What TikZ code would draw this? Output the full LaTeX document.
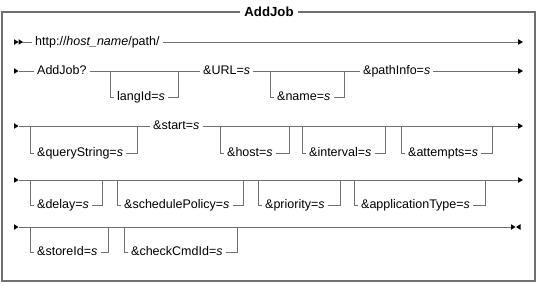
\documentclass[tikz,border=0pt]{standalone}
\usepackage{fontspec}
\setmainfont{Liberation Sans}
\usetikzlibrary{arrows.meta}
\definecolor{railgray}{RGB}{112,112,112}
\tikzset{
  track/.style={draw=railgray,line width=0.9pt},
  term/.style={inner xsep=3pt,inner ysep=0pt,text height=9pt,text depth=2.5pt,
    font=\fontsize{12.5}{14}\selectfont},
  fin/.style={-{Triangle[length=5pt,width=5.5pt,color=black]}},
}
% small filled triangles for the row heads and the final stop
\newcommand{\railhead}[2]{\fill (#1,#2-2.8) -- (#1+4.5,#2) -- (#1,#2+2.8) -- cycle;}
\newcommand{\railback}[2]{\fill (#1,#2-2.8) -- (#1-4.5,#2) -- (#1,#2+2.8) -- cycle;}
% optional item: name, main y, branch y, split x, rejoin x, text
\newcommand{\optarg}[6]{%
  \node[term,anchor=west] (#1) at (#4+4,#3) {#6};
  \draw[track] (#4,#2) |- (#1.west);
  \draw[track] (#1.east) -| (#5,#2);}

\begin{document}
\begin{tikzpicture}[x=1pt,y=-1pt]
\useasboundingbox (0,0) rectangle (538,285);
\draw[railgray,line width=1.3pt] (2,12) rectangle (535,281);
\node[fill=white,inner xsep=4pt,font=\fontsize{13.2}{15}\selectfont\bfseries] (title) at (269,12) {AddJob};

% row 1
\railhead{14}{42}\railhead{18.5}{42}
\coordinate (r1s) at (22,42);
\coordinate (r1e) at (523,42);
\node[term,anchor=west] (url) at (32,42) {http://\textit{host\_name}/path/};
\draw[track] (r1s) -- (url);
\draw[track,fin] (url) -- (r1e);

% row 2
\railhead{14}{71}
\coordinate (r2s) at (19,71);
\coordinate (r2e) at (523,71);
\node[term,anchor=west] (addjob) at (34,71) {AddJob?};
\node[term,anchor=west] (urlarg) at (200,71) {\&URL=\textit{s}};
\node[term,anchor=west] (pathinfo) at (360,71) {\&pathInfo=\textit{s}};
\draw[track] (r2s) -- (addjob);
\draw[track] (addjob) -- (urlarg);
\draw[track] (urlarg) -- (pathinfo);
\draw[track,fin] (pathinfo) -- (r2e);
\optarg{langid}{71}{97}{110}{178}{langId=\textit{s}}
\optarg{name}{71}{97}{270}{344}{\&name=\textit{s}}

% row 3
\railhead{14}{126}
\coordinate (r3s) at (19,126);
\coordinate (r3e) at (523,126);
\node[term,anchor=west] (start) at (150,126) {\&start=\textit{s}};
\draw[track] (r3s) -- (start);
\draw[track,fin] (start) -- (r3e);
\optarg{query}{126}{153}{30}{137}{\&queryString=\textit{s}}
\optarg{host}{126}{153}{220}{289}{\&host=\textit{s}}
\optarg{interval}{126}{153}{302}{385}{\&interval=\textit{s}}
\optarg{attempts}{126}{153}{401}{492}{\&attempts=\textit{s}}

% row 4
\railhead{14}{180}
\coordinate (r4s) at (19,180);
\coordinate (r4e) at (523,180);
\draw[track,fin] (r4s) -- (r4e);
\optarg{delay}{180}{205}{30}{102}{\&delay=\textit{s}}
\optarg{policy}{180}{205}{117}{243}{\&schedulePolicy=\textit{s}}
\optarg{priority}{180}{205}{258}{340}{\&priority=\textit{s}}
\optarg{apptype}{180}{205}{354}{485}{\&applicationType=\textit{s}}

% row 5
\railhead{14}{227}
\coordinate (r5s) at (19,227);
\coordinate (r5e) at (511,227);
\draw[track] (r5s) -- (r5e);
\railhead{511}{227}\railback{520.5}{227}
\optarg{storeid}{227}{252}{30}{108}{\&storeId=\textit{s}}
\optarg{checkcmd}{227}{252}{124}{237}{\&checkCmdId=\textit{s}}
\end{tikzpicture}
\end{document}
